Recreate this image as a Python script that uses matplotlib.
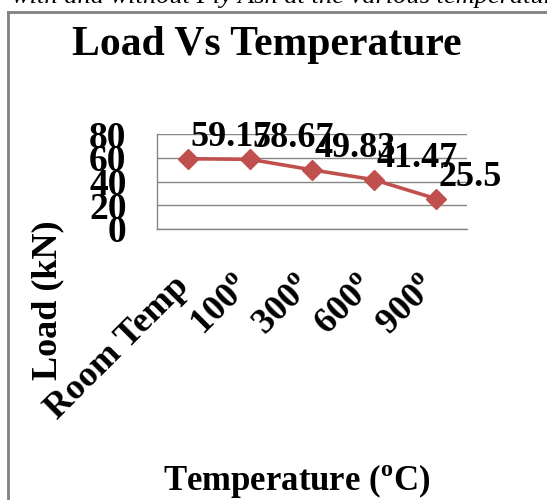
import matplotlib.pyplot as plt
from matplotlib.lines import Line2D
from matplotlib.transforms import ScaledTranslation

# data
categories = ['Room Temp', '100$^{\\mathbf{o}}$', '300$^{\\mathbf{o}}$',
              '600$^{\\mathbf{o}}$', '900$^{\\mathbf{o}}$']
loads = [59.17, 58.67, 49.83, 41.47, 25.5]
load_labels = ['59.17', '58.67', '49.83', '41.47', '25.5']
y_ticks = [0, 20, 40, 60, 80]

plt.rcParams['font.family'] = ['Liberation Serif', 'DejaVu Serif']
plt.rcParams['font.weight'] = 'bold'
plt.rcParams['mathtext.fontset'] = 'custom'
plt.rcParams['mathtext.rm'] = 'Liberation Serif:bold'
plt.rcParams['mathtext.bf'] = 'Liberation Serif:bold'

W, H = 547, 500
fig = plt.figure(figsize=(W / 100, H / 100), dpi=100)
ax = fig.add_axes([157 / W, 1 - 229 / H, 310 / W, 95 / H])

x = range(len(categories))
ax.plot(x, loads, color='#C0504D', lw=2.6, marker='D', ms=10,
        markeredgecolor='#C0504D', zorder=3)

# data labels to the upper right of each point
for i, (v, s) in enumerate(zip(loads, load_labels)):
    ax.annotate(s, (i, v), xytext=(2, 9), textcoords='offset points',
                fontsize=26, fontweight='bold', ha='left', va='baseline',
                zorder=4)

ax.set_xlim(-0.5, len(categories) - 0.5)
ax.set_ylim(0, 80)
ax.set_yticks(y_ticks)
ax.set_yticklabels([str(t) for t in y_ticks], fontsize=27, fontweight='bold')
ax.yaxis.grid(True, color='#868686', lw=1)
ax.set_axisbelow(True)
ax.tick_params(axis='y', length=0, pad=22)
ax.tick_params(axis='x', length=0, pad=38)

ax.set_xticks(list(x))
ax.set_xticklabels(categories, fontsize=26, fontweight='bold',
                   rotation=45, ha='right', va='center',
                   rotation_mode='anchor')
for lab in ax.get_xticklabels():
    lab.set_transform(lab.get_transform() +
                      ScaledTranslation(-0.04, 0, fig.dpi_scale_trans))

for side in ['top', 'right']:
    ax.spines[side].set_visible(False)
for side in ['left', 'bottom']:
    ax.spines[side].set_color('#868686')
    ax.spines[side].set_linewidth(1)

ax.set_title('Load Vs Temperature', fontsize=30, fontweight='bold',
             x=(267 - 157) / 310, y=(229 - 63) / 95, va='baseline')
ax.set_ylabel('Load (kN)', fontsize=26, fontweight='bold')
ax.yaxis.set_label_coords((64 - 157) / 310, (229 - 300) / 95)
ax.set_xlabel('Temperature ($^{\\mathbf{o}}$C)', fontsize=25, fontweight='bold')
ax.xaxis.set_label_coords((297 - 157) / 310, (229 - 462) / 95)

# surrounding page frame and clipped line of page text
fig.add_artist(Line2D([8 / W, 8 / W], [0, 1 - 12 / H],
                      transform=fig.transFigure, color='#808080', lw=2))
fig.add_artist(Line2D([8 / W, 1], [1 - 12 / H, 1 - 12 / H],
                      transform=fig.transFigure, color='#808080', lw=2))
fig.text(12 / W, 1 - 3 / H, 'with and without Fly Ash at the various temperatures',
         fontsize=19, style='italic', fontweight='normal', va='baseline')

fig.savefig('out.png', dpi=100)
